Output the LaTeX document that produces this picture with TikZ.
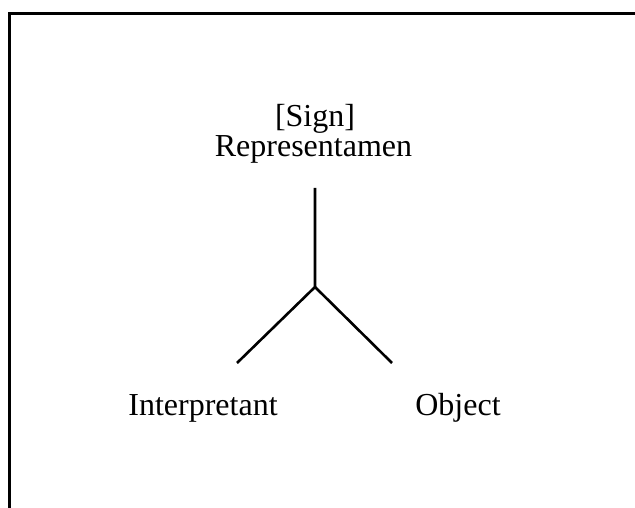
\documentclass[tikz,border=0pt]{standalone}
\usepackage{fontspec}
\setmainfont{Liberation Serif}
\begin{document}
\begin{tikzpicture}[x=1pt,y=-1pt,
  lbl/.style={anchor=base,inner sep=0pt,font=\fontsize{32}{38}\selectfont},
  edge/.style={line width=2.6pt},
  frame/.style={line width=3pt}]
\useasboundingbox (0,0) rectangle (635,508);
\coordinate (tl) at (9,14);
\coordinate (tr) at (635,14);
\coordinate (bl) at (9,508);
\draw[frame] (bl) -- (tl) -- (tr);
\node[lbl] (sign) at (315,127) {[Sign]};
\node[lbl] (rep) at (313.5,157) {Representamen};
\node[lbl] (int) at (203,415) {Interpretant};
\node[lbl] (obj) at (458,415) {Object};
\coordinate (top) at (315,188);
\coordinate (j) at (315,287);
\coordinate (le) at (237,363);
\coordinate (re) at (392,363);
\draw[edge] (top) -- (j) -- (le);
\draw[edge] (j) -- (re);
\end{tikzpicture}
\end{document}
